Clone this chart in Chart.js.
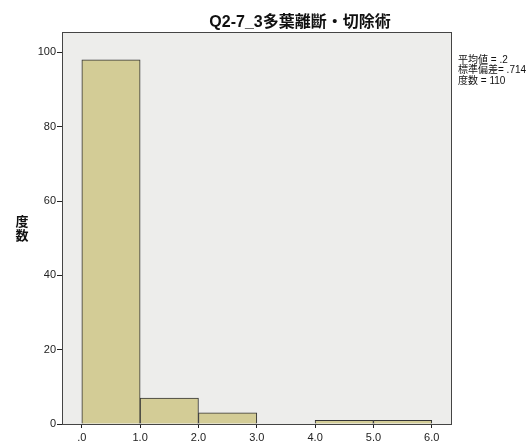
<!DOCTYPE html>
<html>
<head>
<meta charset="utf-8">
<script src="https://cdn.jsdelivr.net/npm/chart.js@4"></script>
<style>
  html, body { margin: 0; padding: 0; background: #fff; }
  #wrap { width: 530px; height: 442px; position: relative; }
</style>
</head>
<body>
<div id="wrap"><canvas id="histChart" width="530" height="442"></canvas></div>
<script>
// Histogram data (bin edges 0..6, width 1)
const binCenters = [0.5, 1.5, 2.5, 3.5, 4.5, 5.5];
const binCounts = [98, 7, 3, 0, 1, 1];
const xTickValues = [0, 1, 2, 3, 4, 5, 6];
const xTickLabels = ['.0', '1.0', '2.0', '3.0', '4.0', '5.0', '6.0'];
const yTickValues = [0, 20, 40, 60, 80, 100];
const statLines = ['平均値 = .2', '標準偏差= .714', '度数 = 110'];
const chartTitle = 'Q2-7_3多葉離斷・切除術';
const yTitle = ['度', '数'];

const FONT = '"Liberation Sans", Arial, "Noto Sans CJK JP", sans-serif';

// gray plot background + frame, title, stats text, y label
const decorations = {
  id: 'decorations',
  beforeDraw(chart) {
    const { ctx, chartArea: a } = chart;
    ctx.save();
    ctx.fillStyle = '#ededeb';
    ctx.fillRect(a.left, a.top, a.right - a.left, a.bottom - a.top);
    ctx.restore();
  },
  afterDraw(chart) {
    const { ctx, chartArea: a } = chart;
    ctx.save();
    ctx.strokeStyle = '#444';
    ctx.lineWidth = 1;
    ctx.strokeRect(a.left + 0.5, a.top + 0.5, a.right - a.left, a.bottom - a.top);

    ctx.fillStyle = '#111';
    ctx.textBaseline = 'middle';
    ctx.textAlign = 'center';
    ctx.font = 'bold 16px ' + FONT;
    ctx.fillText(chartTitle, 300, 23);

    ctx.font = 'bold 13px ' + FONT;
    ctx.fillText(yTitle[0], 22, 222);
    ctx.fillText(yTitle[1], 22, 236);

    ctx.textAlign = 'left';
    ctx.font = '10px ' + FONT;
    statLines.forEach((s, i) => ctx.fillText(s, 458, 60 + i * 10.5));
    ctx.restore();
  }
};

new Chart(document.getElementById('histChart'), {
  type: 'bar',
  data: {
    datasets: [{
      data: binCenters.map((c, i) => ({ x: c, y: binCounts[i] })),
      backgroundColor: '#d3cc96',
      borderColor: '#333',
      borderWidth: 1,
      borderSkipped: 'bottom',
      barPercentage: 1,
      categoryPercentage: 1
    }]
  },
  options: {
    responsive: false,
    animation: false,
    layout: { padding: { left: 0, right: 79, top: 32, bottom: 0 } },
    plugins: { legend: { display: false }, tooltip: { enabled: false } },
    scales: {
      x: {
        type: 'linear',
        offset: false,
        min: -0.34,
        max: 6.33,
        afterFit: s => { s.height = 18; },
        afterBuildTicks: s => { s.ticks = xTickValues.map(v => ({ value: v })); },
        grid: { drawOnChartArea: false, drawTicks: true, tickLength: 4, color: '#222', offset: false },
        border: { display: true, color: '#444' },
        ticks: {
          padding: 3,
          color: '#222',
          font: { family: FONT, size: 11 },
          maxRotation: 0,
          autoSkip: false,
          callback: (v) => xTickLabels[xTickValues.indexOf(v)]
        }
      },
      y: {
        min: 0,
        max: 105.5,
        afterFit: s => { s.width = 62; },
        afterBuildTicks: s => { s.ticks = yTickValues.map(v => ({ value: v })); },
        grid: { drawOnChartArea: false, drawTicks: true, tickLength: 5, color: '#222' },
        border: { display: true, color: '#444' },
        ticks: {
          padding: 1,
          color: '#222',
          font: { family: FONT, size: 11 }
        }
      }
    }
  },
  plugins: [decorations]
});
</script>
</body>
</html>
